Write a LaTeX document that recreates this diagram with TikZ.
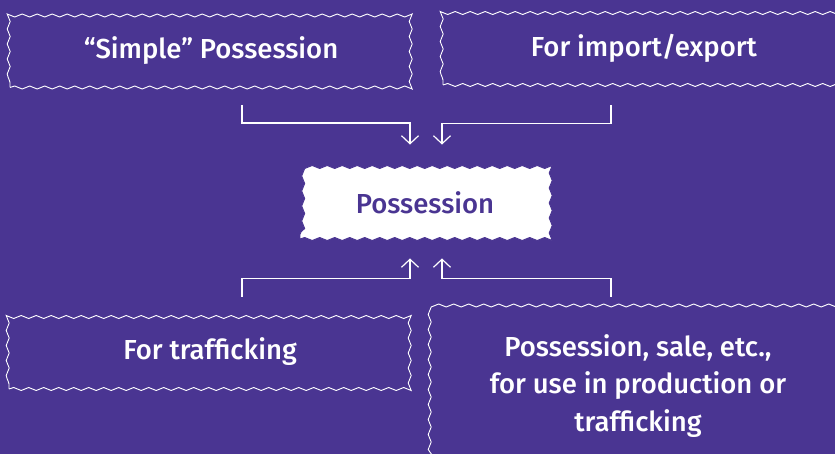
\documentclass[tikz,border=0pt]{standalone}
\usepackage{fontspec}
\setmainfont{Fira Sans Medium}
\usepackage{xcolor}
\usetikzlibrary{arrows.meta, positioning, decorations.pathmorphing}
\definecolor{bgpurple}{HTML}{4A3592}

\begin{document}
\begin{tikzpicture}[
  x=1pt, y=-1pt,
  wavybox/.style={draw=white, line width=0.9pt, decorate,
               decoration={snake, segment length=15pt, amplitude=1.5pt},
               minimum width=402pt, minimum height=74pt, inner sep=0pt,
               align=center, text=white, font=\fontsize{27.5}{37.5}\selectfont},
  centerbox/.style={wavybox, draw=bgpurple, fill=white, text=bgpurple,
               minimum width=250pt, minimum height=72pt},
  arr/.style={-{Straight Barb[length=8pt, width=17pt]}, draw=white, line width=1.2pt}
]
\clip (0,0) rectangle (835,454);
\fill[bgpurple] (0,0) rectangle (835,454);

\node[wavybox] (simple) at (211,50.5) {“Simple” Possession};
\node[wavybox] (trade) at (644,48) {For import/export};
\node[centerbox] (poss) at (425,203) {Possession};
\node[wavybox] (traff) at (210,352) {For trafficking};
\node[wavybox, minimum height=154pt] (prod) at (638,386)
  {Possession, sale, etc.,\\for use in production or\\trafficking};

\coordinate (inL) at ([shift={(-15,-22)}]poss.north);
\coordinate (inR) at ([shift={(17,-22)}]poss.north);
\coordinate (outL) at ([shift={(-15,19)}]poss.south);
\coordinate (outR) at ([shift={(17,19)}]poss.south);

\draw[arr] ([shift={(31,17)}]simple.south) -- ++(0,18) -| (inL);
\draw[arr] ([shift={(-33,20)}]trade.south) -- ++(0,18) -| (inR);
\draw[arr] ([shift={(32,-18)}]traff.north) -- ++(0,-18) -| (outL);
\draw[arr] ([shift={(-27,-12)}]prod.north) -- ++(0,-18) -| (outR);
\end{tikzpicture}
\end{document}
